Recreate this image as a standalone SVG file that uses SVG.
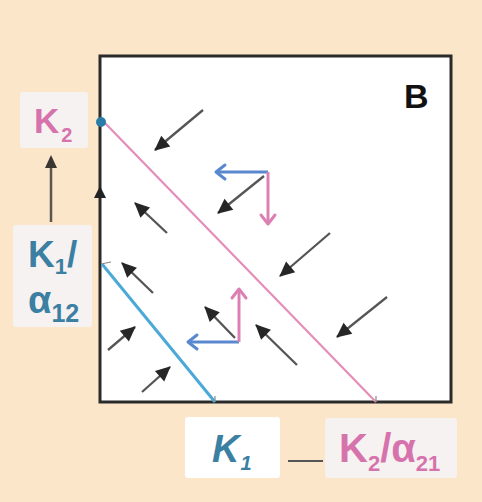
<svg xmlns="http://www.w3.org/2000/svg" width="482" height="502" viewBox="0 0 482 502">
<style>
.lbl{fill:#f6f2f1}
.teal{fill:#3b7fa2;font-family:"Liberation Sans",Arial,sans-serif;font-weight:bold}
.pink{fill:#d673ad;font-family:"Liberation Sans",Arial,sans-serif;font-weight:bold}
.blk{stroke:#555;stroke-width:2.3;fill:none}
.bl{stroke:#5a88cf;stroke-width:3;fill:none}
.pk{stroke:#dc80b4;stroke-width:3;fill:none}
</style>
<defs>
<marker id="ah" markerUnits="userSpaceOnUse" markerWidth="16" markerHeight="14" refX="14" refY="7" orient="auto" overflow="visible">
<path d="M0,0 L15,7 L0,14 z" fill="#262626"/>
</marker>
<marker id="cb" markerUnits="userSpaceOnUse" markerWidth="16" markerHeight="16" refX="12" refY="8" orient="auto" overflow="visible">
<path d="M3,1 L12,8 L3,15" fill="none" stroke="#5a88cf" stroke-width="3" stroke-linecap="round" stroke-linejoin="round"/>
</marker>
<marker id="cp" markerUnits="userSpaceOnUse" markerWidth="16" markerHeight="16" refX="12" refY="8" orient="auto" overflow="visible">
<path d="M3,1 L12,8 L3,15" fill="none" stroke="#dc80b4" stroke-width="3" stroke-linecap="round" stroke-linejoin="round"/>
</marker>
</defs>
<rect width="482" height="502" fill="#fbe6c9"/>
<g id="plot">
<rect x="100" y="56" width="351" height="346" fill="#ffffff" stroke="#2a2a2a" stroke-width="3"/>
<line x1="104" y1="122" x2="376" y2="402" stroke="#e58db9" stroke-width="2.2"/>
<line x1="102" y1="264" x2="215" y2="402" stroke="#4aa9d6" stroke-width="3"/>
<line x1="101" y1="264" x2="111" y2="262" stroke="#888" stroke-width="1.2"/>
<line x1="376" y1="396" x2="376" y2="402" stroke="#888" stroke-width="1.2"/>
<line x1="215" y1="396" x2="215" y2="402" stroke="#888" stroke-width="1.2"/>
<circle cx="101" cy="122" r="5" fill="#2a7ca8"/>
<path d="M100,186 L106,198 L94,198 z" fill="#222"/>
<text x="404" y="108" font-family="Liberation Sans,Arial,sans-serif" font-weight="bold" font-size="34" fill="#111">B</text>
</g>
<g id="label-K2">
<rect class="lbl" x="20" y="92" width="68" height="56" rx="3"/>
<text class="pink" x="34" y="133" font-size="35">K<tspan dx="2" dy="9" font-size="20">2</tspan></text>
</g>
<g id="label-K1-a12">
<rect class="lbl" x="13" y="225" width="79" height="102" rx="3"/>
<text class="teal" x="28" y="267" font-size="37">K<tspan dy="7" font-size="22">1</tspan><tspan dy="-7">/</tspan></text>
<text class="teal" x="28" y="313" font-size="38">α<tspan dy="9" font-size="25">12</tspan></text>
</g>
<g id="label-K1">
<rect x="185" y="417" width="95" height="61" rx="3" fill="#ffffff"/>
<text class="teal" x="212" y="462" font-size="38" font-style="italic">K<tspan dx="1" dy="8" font-size="20">1</tspan></text>
</g>
<g id="label-K2-a21">
<rect class="lbl" x="325" y="418" width="132" height="60" rx="3"/>
<text class="pink" x="339" y="462" font-size="40">K<tspan dy="9" font-size="22">2</tspan><tspan dy="-9">/α</tspan><tspan dy="9" font-size="22">21</tspan></text>
</g>
<g id="connectors">
<line x1="51" y1="222" x2="51" y2="166" stroke="#5b5650" stroke-width="2.5"/>
<path d="M51,155 L57,168 L45,168 z" fill="#3a3632"/>
<line x1="288" y1="461" x2="323" y2="461" stroke="#555" stroke-width="2"/>
<line class="blk" x1="203" y1="110" x2="155" y2="150" marker-end="url(#ah)"/>
<line class="blk" x1="167" y1="233" x2="135" y2="203" marker-end="url(#ah)"/>
<line class="blk" x1="153" y1="293" x2="122" y2="263" marker-end="url(#ah)"/>
<line class="blk" x1="108" y1="350" x2="135" y2="327" marker-end="url(#ah)"/>
<line class="blk" x1="142" y1="392" x2="170" y2="367" marker-end="url(#ah)"/>
<line class="blk" x1="297" y1="365" x2="256" y2="325" marker-end="url(#ah)"/>
<line class="blk" x1="330" y1="233" x2="280" y2="276" marker-end="url(#ah)"/>
<line class="blk" x1="387" y1="297" x2="337" y2="337" marker-end="url(#ah)"/>
<line class="blk" x1="264" y1="176" x2="218" y2="213" marker-end="url(#ah)"/>
<line class="bl" x1="268" y1="172" x2="216" y2="172" marker-end="url(#cb)"/>
<line class="pk" x1="268" y1="172" x2="268" y2="224" marker-end="url(#cp)"/>
<line class="blk" x1="235" y1="338" x2="205" y2="307" marker-end="url(#ah)"/>
<line class="bl" x1="239" y1="342" x2="188" y2="342" marker-end="url(#cb)"/>
<line class="pk" x1="239" y1="342" x2="239" y2="289" marker-end="url(#cp)"/>
</g>
</svg>
